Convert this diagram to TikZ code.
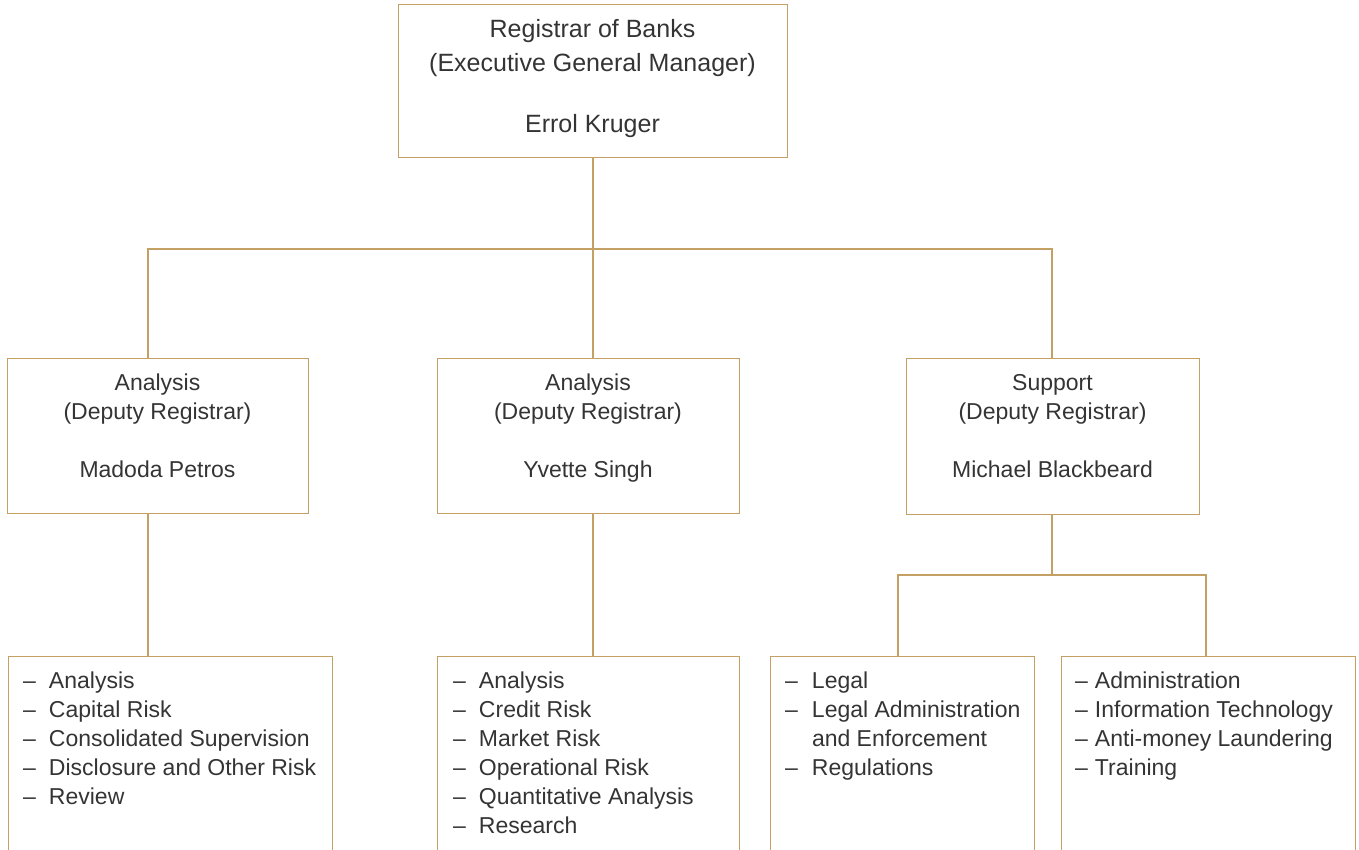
\documentclass[tikz,border=0pt]{standalone}
\usepackage{fontspec}
\setmainfont{Liberation Sans}
\definecolor{gold}{RGB}{196,160,100}
\definecolor{ink}{RGB}{52,52,52}
\begin{document}
\begin{tikzpicture}[x=1pt,y=-1pt,
  box/.style={draw=gold, line width=1.4pt, rectangle, inner sep=0pt, anchor=north west},
  conn/.style={draw=gold, line width=1.4pt},
  bigtxt/.style={text=ink, inner sep=0pt, anchor=base, font=\fontsize{25}{34}\selectfont},
  midtxt/.style={text=ink, inner sep=0pt, anchor=base, font=\fontsize{23}{29}\selectfont},
  listtxt/.style={text=ink, inner sep=0pt, anchor=base west, font=\fontsize{23}{29}\selectfont},
]
\useasboundingbox (0,0) rectangle (1359,849);
\clip (0,0) rectangle (1359,849);

% boxes
\node[box, minimum width=389, minimum height=153] (top) at (398,4) {};
\node[box, minimum width=301, minimum height=155] (a1) at (7,358) {};
\node[box, minimum width=302, minimum height=155] (a2) at (437,358) {};
\node[box, minimum width=293, minimum height=156] (a3) at (906,358) {};
\node[box, minimum width=324, minimum height=260] (b1) at (8,656) {};
\node[box, minimum width=302, minimum height=260] (b2) at (437,656) {};
\node[box, minimum width=264, minimum height=260] (b3) at (770,656) {};
\node[box, minimum width=294, minimum height=260] (b4) at (1061,656) {};

% connector positions
\coordinate (j0) at (593,249);
\coordinate (j3) at (1052,575);
\coordinate (x1) at (148,0);
\coordinate (x2) at (593,0);
\coordinate (x3) at (1052,0);
\coordinate (x4) at (898,0);
\coordinate (x5) at (1206,0);

\draw[conn] (top.south -| x2) -- (j0);
\draw[conn] (a1.north -| x1) |- (j0) -| (a3.north -| x3);
\draw[conn] (j0) -- (a2.north -| x2);
\draw[conn] (a1.south -| x1) -- (b1.north -| x1);
\draw[conn] (a2.south -| x2) -- (b2.north -| x2);
\draw[conn] (a3.south -| x3) -- (j3);
\draw[conn] (b3.north -| x4) |- (j3) -| (b4.north -| x5);

% texts
\node[bigtxt] (t0) at (592.5,37) {\begin{tabular}[t]{@{}c@{}}Registrar of Banks\\(Executive General Manager)\\[27pt]Errol Kruger\end{tabular}};
\node[midtxt] (ta1) at (157.5,390) {\begin{tabular}[t]{@{}c@{}}Analysis\\(Deputy Registrar)\\[29pt]Madoda Petros\end{tabular}};
\node[midtxt] (ta2) at (588,390) {\begin{tabular}[t]{@{}c@{}}Analysis\\(Deputy Registrar)\\[29pt]Yvette Singh\end{tabular}};
\node[midtxt] (ta3) at (1052.5,390) {\begin{tabular}[t]{@{}c@{}}Support\\(Deputy Registrar)\\[29pt]Michael Blackbeard\end{tabular}};

\node[listtxt] (l1) at (23,688) {\begin{tabular}[t]{@{}l@{\hspace{13pt}}l@{}}
– & Analysis\\
– & Capital Risk\\
– & Consolidated Supervision\\
– & Disclosure and Other Risk\\
– & Review
\end{tabular}};
\node[listtxt] (l2) at (453,688) {\begin{tabular}[t]{@{}l@{\hspace{13pt}}l@{}}
– & Analysis\\
– & Credit Risk\\
– & Market Risk\\
– & Operational Risk\\
– & Quantitative Analysis\\
– & Research
\end{tabular}};
\node[listtxt] (l3) at (785,688) {\begin{tabular}[t]{@{}l@{\hspace{14pt}}l@{}}
– & Legal\\
– & Legal Administration\\
  & and Enforcement\\
– & Regulations
\end{tabular}};
\node[listtxt] (l4) at (1075,688) {\begin{tabular}[t]{@{}l@{\hspace{7pt}}l@{}}
– & Administration\\
– & Information Technology\\
– & Anti-money Laundering\\
– & Training
\end{tabular}};
\end{tikzpicture}
\end{document}
